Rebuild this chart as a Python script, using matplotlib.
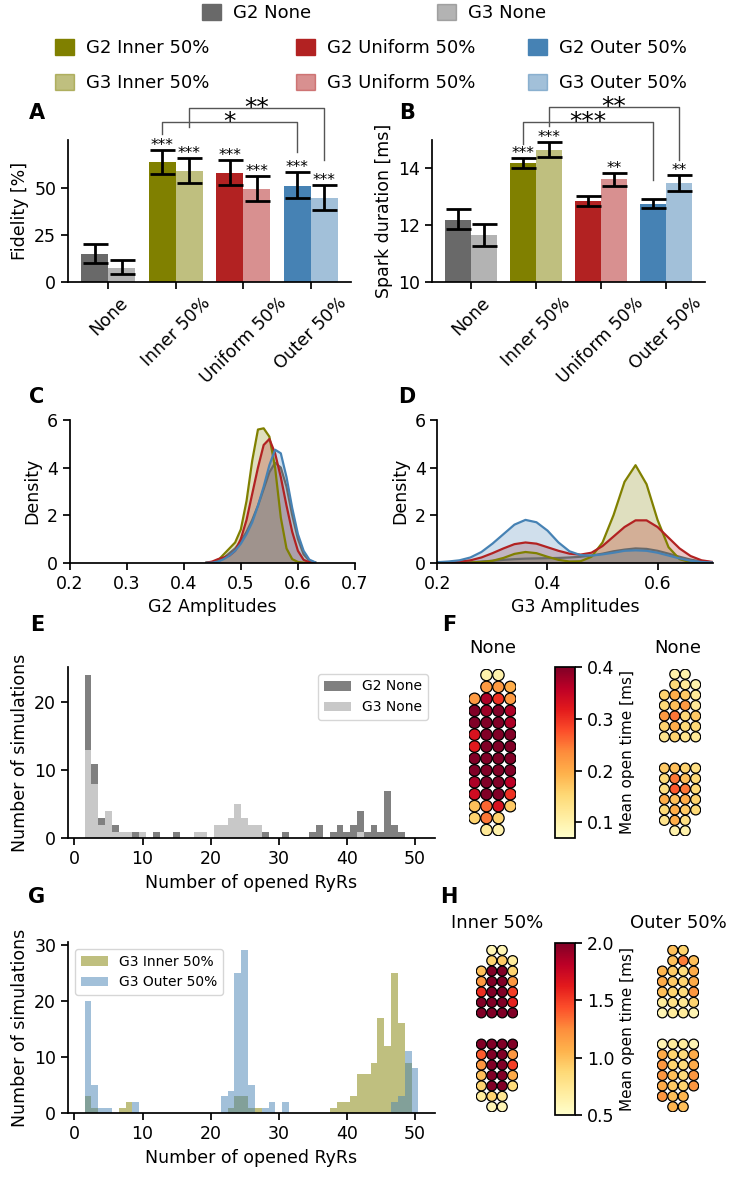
import numpy as np
import matplotlib.pyplot as plt
from matplotlib.patches import Patch, Circle
from matplotlib.collections import PatchCollection
from matplotlib.colors import Normalize

plt.rc('font', size=12.5)
plt.rc('axes', linewidth=1.25)
plt.rc('xtick.major', size=5, width=1.25)
plt.rc('ytick.major', size=5, width=1.25)
plt.rc('axes.spines', top=False, right=False)

W, H = 729, 1177

# ---------------- data ----------------
groups = ['None', 'Inner 50%', 'Uniform 50%', 'Outer 50%']
colors = ['dimgray', 'olive', 'firebrick', 'steelblue']

# fidelity [%] (bar value, lower and upper end of error bar)
fid_g2 = [15.0, 63.9, 58.2, 51.2]
fid_g2_lo = [10.3, 57.3, 51.4, 44.4]
fid_g2_hi = [20.0, 70.4, 64.8, 58.4]
fid_g3 = [7.7, 59.0, 49.7, 44.8]
fid_g3_lo = [4.0, 52.6, 43.0, 38.2]
fid_g3_hi = [11.5, 66.0, 56.6, 51.6]
fid_stars_g2 = ['', '***', '***', '***']
fid_stars_g3 = ['', '***', '***', '***']

# spark duration [ms]
dur_g2 = [12.2, 14.18, 12.86, 12.75]
dur_g2_lo = [11.85, 14.02, 12.69, 12.59]
dur_g2_hi = [12.58, 14.35, 13.04, 12.94]
dur_g3 = [11.65, 14.66, 13.62, 13.5]
dur_g3_lo = [11.26, 14.41, 13.39, 13.22]
dur_g3_hi = [12.05, 14.93, 13.85, 13.75]
dur_stars_g2 = ['', '***', '', '']
dur_stars_g3 = ['', '***', '**', '**']

# density curves, G2 amplitudes
c_x = [0.44, 0.45, 0.46, 0.47, 0.48, 0.49, 0.50, 0.51, 0.52, 0.53,
       0.54, 0.55, 0.56, 0.57, 0.58, 0.59, 0.60, 0.61, 0.62, 0.63]
c_none = [0, 0, 0.05, 0.2, 0.4, 0.6, 0.9, 1.3, 1.8, 2.4,
          3.1, 3.8, 4.2, 4.0, 3.2, 2.0, 1.0, 0.35, 0.08, 0.01]
c_inner = [0, 0.02, 0.1, 0.35, 0.6, 0.85, 1.4, 2.6, 4.3, 5.6,
           5.65, 5.3, 4.0, 1.9, 0.6, 0.15, 0.03, 0, 0, 0]
c_uniform = [0, 0.05, 0.15, 0.22, 0.3, 0.5, 1.0, 1.8, 2.9, 4.0,
             4.95, 5.2, 4.6, 3.6, 2.4, 1.3, 0.5, 0.12, 0.02, 0]
c_outer = [0, 0, 0.05, 0.15, 0.3, 0.5, 0.8, 1.2, 1.7, 2.4,
           3.2, 4.1, 4.75, 4.6, 3.6, 2.3, 1.2, 0.5, 0.13, 0.02]

# density curves, G3 amplitudes
d_x = [0.20, 0.22, 0.24, 0.26, 0.28, 0.30, 0.32, 0.34, 0.36, 0.38, 0.40, 0.42, 0.44,
       0.46, 0.48, 0.50, 0.52, 0.54, 0.56, 0.58, 0.60, 0.62, 0.64, 0.66, 0.68, 0.70]
d_none = [0, 0, 0.01, 0.02, 0.05, 0.08, 0.12, 0.15, 0.17, 0.18, 0.19, 0.2, 0.22,
          0.25, 0.3, 0.38, 0.48, 0.55, 0.6, 0.58, 0.5, 0.38, 0.25, 0.13, 0.05, 0.02]
d_inner = [0, 0, 0, 0.01, 0.03, 0.08, 0.2, 0.37, 0.45, 0.4, 0.25, 0.12, 0.05,
           0.06, 0.25, 0.85, 2.0, 3.4, 4.1, 3.3, 1.8, 0.65, 0.15, 0.02, 0, 0]
d_uniform = [0.01, 0.02, 0.05, 0.1, 0.22, 0.4, 0.6, 0.78, 0.85, 0.8, 0.65, 0.5, 0.38,
             0.34, 0.42, 0.7, 1.1, 1.5, 1.78, 1.78, 1.5, 1.05, 0.6, 0.28, 0.1, 0.03]
d_outer = [0.02, 0.05, 0.1, 0.22, 0.45, 0.8, 1.2, 1.6, 1.8, 1.7, 1.35, 0.85, 0.48,
           0.32, 0.3, 0.35, 0.42, 0.5, 0.52, 0.5, 0.42, 0.3, 0.18, 0.08, 0.03, 0.01]

# histograms: number of simulations for 1..50 opened RyRs (ten bins per line)
ryr_bins = list(range(1, 51))
hist_g2_none = [0, 24, 11, 3, 0, 2, 0, 0, 1, 0,
                0, 1, 0, 0, 1, 0, 0, 0, 0, 0,
                0, 0, 0, 0, 0, 0, 0, 1, 0, 0,
                1, 0, 0, 0, 1, 2, 0, 1, 2, 1,
                2, 4, 1, 2, 1, 7, 2, 1, 0, 0]
hist_g3_none = [0, 13, 8, 2, 4, 1, 1, 1, 0, 1,
                0, 0, 0, 0, 0, 0, 0, 1, 1, 0,
                2, 2, 3, 5, 3, 2, 2, 0, 0, 0,
                0, 0, 0, 0, 0, 0, 0, 0, 0, 0,
                0, 1, 0, 0, 0, 0, 0, 0, 0, 0]
hist_g3_inner = [0, 3, 1, 0, 0, 0, 1, 2, 0, 0,
                 0, 0, 0, 0, 0, 0, 0, 0, 0, 0,
                 0, 0, 1, 3, 3, 1, 1, 0, 0, 0,
                 0, 0, 0, 0, 0, 0, 0, 1, 2, 2,
                 3, 7, 7, 9, 17, 12, 25, 16, 9, 0]
hist_g3_outer = [0, 20, 5, 1, 1, 0, 0, 0, 2, 0,
                 0, 0, 0, 0, 0, 0, 0, 0, 0, 0,
                 0, 3, 4, 25, 29, 5, 0, 1, 2, 0,
                 2, 0, 0, 0, 0, 0, 0, 0, 0, 0,
                 0, 0, 0, 0, 0, 0, 2, 3, 11, 8]

# RyR cluster layouts: (row, occupied columns)
g2_layout = [(0, [1, 2]), (1, [1, 2, 3])] + [(r, [0, 1, 2, 3]) for r in range(2, 12)] + \
            [(12, [0, 1, 2]), (13, [1, 2])]
g3_layout = [(0, [1, 2]), (1, [1, 2, 3])] + [(r, [0, 1, 2, 3]) for r in range(2, 7)] + \
            [(r, [0, 1, 2, 3]) for r in range(9, 14)] + [(14, [0, 1, 2]), (15, [1, 2])]

# mean open time [ms] of every RyR, row by row
open_g2_none = [[0.1, 0.1], [0.22, 0.22, 0.2], [0.22, 0.37, 0.3, 0.22],
                [0.4, 0.38, 0.4, 0.37], [0.4, 0.4, 0.4, 0.37], [0.33, 0.4, 0.4, 0.4],
                [0.32, 0.4, 0.4, 0.4], [0.4, 0.4, 0.4, 0.4], [0.4, 0.4, 0.4, 0.4],
                [0.37, 0.4, 0.4, 0.36], [0.34, 0.4, 0.4, 0.3], [0.18, 0.26, 0.33, 0.17],
                [0.16, 0.25, 0.16], [0.12, 0.1]]
open_g3_none = [[0.1, 0.1], [0.15, 0.12, 0.1], [0.16, 0.2, 0.17, 0.12],
                [0.15, 0.18, 0.22, 0.12], [0.22, 0.25, 0.15, 0.17], [0.16, 0.2, 0.15, 0.15],
                [0.13, 0.16, 0.13, 0.12],
                [0.17, 0.18, 0.16, 0.14], [0.15, 0.25, 0.18, 0.15], [0.14, 0.27, 0.25, 0.15],
                [0.2, 0.18, 0.2, 0.16], [0.15, 0.2, 0.17, 0.15], [0.13, 0.2, 0.14], [0.1, 0.1]]
open_g3_inner = [[0.6, 0.6], [0.9, 0.95, 0.7], [1.0, 2.0, 2.0, 0.9],
                 [1.2, 2.0, 2.0, 1.2], [1.55, 2.0, 2.0, 1.5], [2.0, 2.0, 2.0, 1.6],
                 [2.0, 2.0, 2.0, 2.0],
                 [2.0, 2.0, 2.0, 2.0], [1.4, 2.0, 2.0, 1.2], [1.2, 2.0, 2.0, 1.5],
                 [1.0, 2.0, 2.0, 1.1], [0.9, 2.0, 2.0, 0.85], [0.7, 0.9, 0.75], [0.6, 0.6]]
open_g3_outer = [[1.0, 0.9], [1.0, 1.3, 1.0], [1.05, 0.95, 0.85, 1.1],
                 [1.1, 0.95, 0.9, 1.1], [1.0, 0.9, 0.85, 1.2], [0.7, 0.8, 0.75, 0.9],
                 [0.6, 0.7, 0.7, 0.6],
                 [0.6, 0.7, 0.7, 0.6], [1.1, 0.9, 0.85, 1.1], [1.2, 0.9, 0.85, 1.1],
                 [1.2, 1.0, 0.85, 1.2], [1.1, 0.95, 0.9, 1.2], [1.2, 1.0, 1.05], [1.05, 1.0]]

# ---------------- figure ----------------
fig = plt.figure(figsize=(W / 100, H / 100), dpi=100)


def add_ax(l, t, r, b):
    # axes from pixel box (left, top, right, bottom)
    return fig.add_axes([l / W, 1 - b / H, (r - l) / W, (b - t) / H])


def bar_panel(ax, g2, g2_lo, g2_hi, g3, g3_lo, g3_hi, st2, st3):
    x = np.arange(len(groups))
    for i in x:
        ax.bar(i - 0.2, g2[i], 0.4, color=colors[i])
        ax.bar(i + 0.2, g3[i], 0.4, color=colors[i], alpha=0.5)
        ax.errorbar(i - 0.2, g2[i], yerr=[[g2[i] - g2_lo[i]], [g2_hi[i] - g2[i]]],
                    color='black', elinewidth=2, capsize=9, capthick=2)
        ax.errorbar(i + 0.2, g3[i], yerr=[[g3[i] - g3_lo[i]], [g3_hi[i] - g3[i]]],
                    color='black', elinewidth=2, capsize=9, capthick=2)
        ax.text(i - 0.2, g2_hi[i], st2[i], ha='center', va='baseline', fontsize=11)
        ax.text(i + 0.2, g3_hi[i], st3[i], ha='center', va='baseline', fontsize=11)
    ax.set_xticks(x)
    ax.set_xticklabels(groups, rotation=45)
    ax.set_xlim(-0.6, 3.6)


def bracket(ax, x0, x1, top, left_end, right_end, label):
    ax.plot([x0, x0, x1, x1], [left_end, top, top, right_end], color='#555555',
            lw=1, clip_on=False)
    ax.text((x0 + x1) / 2, top, label, ha='center', va='center', fontsize=18)


# legend on top
legend_entries = [('G2 None', 0, 1.0, 202, 13), ('G3 None', 0, 0.5, 437, 13),
                  ('G2 Inner 50%', 1, 1.0, 55, 48), ('G2 Uniform 50%', 2, 1.0, 296, 48),
                  ('G2 Outer 50%', 3, 1.0, 528, 48),
                  ('G3 Inner 50%', 1, 0.5, 55, 83), ('G3 Uniform 50%', 2, 0.5, 296, 83),
                  ('G3 Outer 50%', 3, 0.5, 528, 83)]
for label, ci, a, lx, ly in legend_entries:
    fig.legend(handles=[Patch(color=colors[ci], alpha=a, label=label)], loc='center left',
               bbox_to_anchor=(lx / W, 1 - ly / H), frameon=False, borderpad=0,
               borderaxespad=0, handlelength=1.05, handleheight=0.95,
               handletextpad=0.65, fontsize=13)

# A: fidelity
axA = add_ax(68, 140, 351, 282)
bar_panel(axA, fid_g2, fid_g2_lo, fid_g2_hi, fid_g3, fid_g3_lo, fid_g3_hi,
          fid_stars_g2, fid_stars_g3)
axA.set_ylim(0, 75.5)
axA.set_yticks([0, 25, 50])
axA.set_ylabel('Fidelity [%]')
bracket(axA, 0.8, 2.8, 85, 78.7, 69, '*')
bracket(axA, 1.2, 3.2, 92.5, 82.4, 65, '**')

# B: spark duration
axB = add_ax(432, 140, 705, 282)
bar_panel(axB, dur_g2, dur_g2_lo, dur_g2_hi, dur_g3, dur_g3_lo, dur_g3_hi,
          dur_stars_g2, dur_stars_g3)
axB.set_ylim(10, 15)
axB.set_yticks([10, 12, 14])
axB.set_ylabel('Spark duration [ms]')
bracket(axB, 0.8, 2.8, 15.65, 14.85, 13.6, '***')
bracket(axB, 1.2, 3.2, 16.15, 15.48, 14.3, '**')

# C / D: amplitude densities
axC = add_ax(69.6, 420, 355, 562.7)
for ys, c in zip([c_none, c_inner, c_uniform, c_outer], colors):
    axC.fill_between(c_x, ys, color=c, alpha=0.25, lw=0)
    axC.plot(c_x, ys, color=c, lw=1.6)
axC.set_xlim(0.2, 0.7)
axC.set_ylim(0, 6)
axC.set_xticks([0.2, 0.3, 0.4, 0.5, 0.6, 0.7])
axC.set_yticks([0, 2, 4, 6])
axC.set_xlabel('G2 Amplitudes')
axC.set_ylabel('Density')

axD = add_ax(437.4, 420, 712.6, 562.7)
for ys, c in zip([d_none, d_inner, d_uniform, d_outer], colors):
    axD.fill_between(d_x, ys, color=c, alpha=0.25, lw=0)
    axD.plot(d_x, ys, color=c, lw=1.6)
axD.set_xlim(0.2, 0.7)
axD.set_ylim(0, 6)
axD.set_xticks([0.2, 0.4, 0.6])
axD.set_yticks([0, 2, 4, 6])
axD.set_xlabel('G3 Amplitudes')
axD.set_ylabel('Density')

# E: histogram None
axE = add_ax(68, 667, 435, 838.3)
axE.bar(ryr_bins, hist_g2_none, width=1, color='#808080', label='G2 None')
axE.bar(ryr_bins, hist_g3_none, width=1, color='#c8c8c8', label='G3 None')
axE.set_xlim(-0.95, 52.95)
axE.set_xticks([0, 10, 20, 30, 40, 50])
axE.set_xlabel('Number of opened RyRs')
axE.set_ylabel('Number of simulations')
axE.legend(loc='upper right', fontsize=10)

# G: histogram Inner / Outer
axG = add_ax(68, 942, 435, 1113.3)
axG.bar(ryr_bins, hist_g3_inner, width=1, color='olive', alpha=0.5, label='G3 Inner 50%')
axG.bar(ryr_bins, hist_g3_outer, width=1, color='steelblue', alpha=0.5, label='G3 Outer 50%')
axG.set_xlim(-0.95, 52.95)
axG.set_xticks([0, 10, 20, 30, 40, 50])
axG.set_xlabel('Number of opened RyRs')
axG.set_ylabel('Number of simulations')
axG.legend(loc='upper left', fontsize=10)


# F / H: RyR clusters
def cluster(box, layout, values, vmin, vmax):
    ax = add_ax(*box)
    pts, vals = [], []
    for (r, cols), row_vals in zip(layout, values):
        for c, v in zip(cols, row_vals):
            pts.append(Circle((c, r), 0.48))
            vals.append(v)
    pc = PatchCollection(pts, cmap='YlOrRd', norm=Normalize(vmin, vmax),
                         edgecolor='black', linewidth=0.9)
    pc.set_array(np.array(vals))
    ax.add_collection(pc)
    nrows = layout[-1][0]
    ax.set_xlim(-0.5, 3.5)
    ax.set_ylim(nrows + 0.5, -0.5)
    ax.set_aspect('equal')
    ax.axis('off')
    return pc


cluster((468.6, 669, 516.3, 836), g2_layout, open_g2_none, 0.07, 0.4)
pcF = cluster((659.1, 669, 700.9, 836), g3_layout, open_g3_none, 0.07, 0.4)
cbF = fig.colorbar(pcF, cax=add_ax(555, 667, 575, 838), ticks=[0.1, 0.2, 0.3, 0.4])
cbF.set_label('Mean open time [ms]', fontsize=11)

cluster((476.1, 945, 517.9, 1112), g3_layout, open_g3_inner, 0.5, 2.0)
pcH = cluster((657.1, 945, 698.9, 1112), g3_layout, open_g3_outer, 0.5, 2.0)
cbH = fig.colorbar(pcH, cax=add_ax(555, 943, 575, 1115), ticks=[0.5, 1.0, 1.5, 2.0])
cbH.set_label('Mean open time [ms]', fontsize=11)

fig.text(493 / W, 1 - 648 / H, 'None', ha='center', va='center', fontsize=13)
fig.text(678 / W, 1 - 648 / H, 'None', ha='center', va='center', fontsize=13)
fig.text(497 / W, 1 - 923 / H, 'Inner 50%', ha='center', va='center', fontsize=13)
fig.text(678 / W, 1 - 923 / H, 'Outer 50%', ha='center', va='center', fontsize=13)

# panel letters
for letter, lx, ly in [('A', 37, 113), ('B', 407, 113), ('C', 37, 397), ('D', 407, 397),
                       ('E', 37, 625), ('F', 449, 625), ('G', 37, 897), ('H', 449, 897)]:
    fig.text(lx / W, 1 - ly / H, letter, ha='center', va='center',
             fontsize=15, fontweight='bold')

fig.savefig('out.png', dpi=100)
